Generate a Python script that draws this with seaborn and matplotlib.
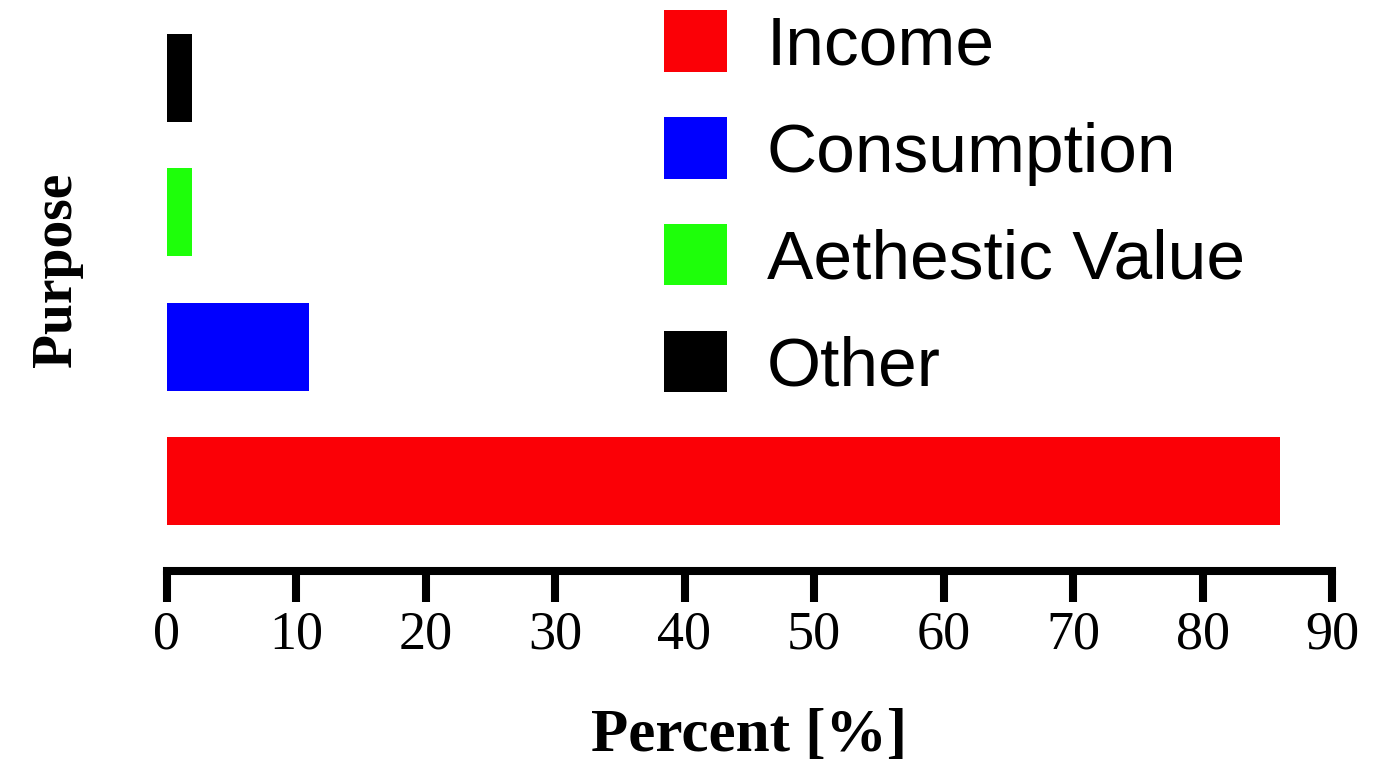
import matplotlib
matplotlib.use("Agg")
import matplotlib.pyplot as plt
import seaborn as sns
import pandas as pd

purposes = ["Income", "Consumption", "Aethestic Value", "Other"]
percent = [86, 11, 2, 2]
colors = ["#fb0006", "#0000ff", "#1eff0a", "#000000"]
bar_order = ["Other", "Aethestic Value", "Consumption", "Income"]
xticks = [0, 10, 20, 30, 40, 50, 60, 70, 80, 90]

sns.set_theme(style="white")
plt.rcParams["font.family"] = ["Liberation Serif", "DejaVu Serif"]
plt.rcParams["text.color"] = "black"
plt.rcParams["axes.labelcolor"] = "black"
plt.rcParams["xtick.color"] = "black"
plt.rcParams["ytick.color"] = "black"

df = pd.DataFrame({"Purpose": purposes, "Percent": percent})

fig = plt.figure(figsize=(13.82, 7.75), dpi=100)
ax = fig.add_axes([166.5 / 1382, 1 - 571 / 775, (1332 - 166.5) / 1382, (571 - 11) / 775])

sns.barplot(data=df, x="Percent", y="Purpose", hue="Purpose",
            order=bar_order, hue_order=purposes,
            palette=dict(zip(purposes, colors)),
            width=0.655, saturation=1, orient="h", ax=ax, legend=True,
            edgecolor="none")

ax.set_xlim(0, 90)
ax.set_ylim(3.67, -0.5)
ax.set_xticks(xticks)
ax.set_xticklabels([str(t) for t in xticks], fontsize=39, fontfamily="Liberation Serif", color="black")
ax.set_yticks([])

for s in ["top", "right", "left"]:
    ax.spines[s].set_visible(False)
ax.spines["bottom"].set_linewidth(5.8)
ax.spines["bottom"].set_color("black")
ax.tick_params(axis="x", direction="out", length=22, width=5.8, color="black",
               labelcolor="black", pad=6, bottom=True)

ax.set_xlabel("Percent [%]", fontsize=44, fontweight="bold", fontfamily="Liberation Serif",
              labelpad=34, color="black")
ax.set_ylabel("Purpose", fontsize=40, fontweight="bold", fontfamily="Liberation Serif", color="black")
ax.yaxis.set_label_coords(-0.072, 0.538)

handles, labels = ax.get_legend_handles_labels()
leg = ax.legend(handles, labels, loc="upper left",
                bbox_to_anchor=(664 / 1382, 1 - 10 / 775), bbox_transform=fig.transFigure,
                frameon=False, borderpad=0, borderaxespad=0,
                prop={"family": "Liberation Sans", "size": 50},
                handlelength=0.9, handleheight=0.99, handletextpad=0.58,
                labelspacing=0.55, labelcolor="black")

fig.savefig("out.png", dpi=100)
